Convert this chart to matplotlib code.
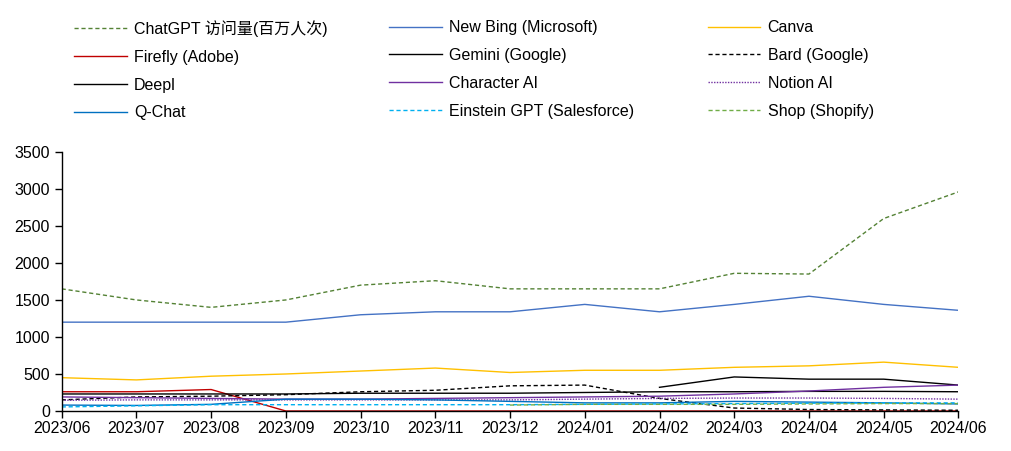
import matplotlib
matplotlib.use("Agg")
import matplotlib.pyplot as plt
import numpy as np

plt.rcParams['font.family'] = ['Liberation Sans', 'Noto Sans CJK SC', 'DejaVu Sans']

months = ['2023/06', '2023/07', '2023/08', '2023/09', '2023/10', '2023/11', '2023/12',
          '2024/01', '2024/02', '2024/03', '2024/04', '2024/05', '2024/06']

chatgpt = [1650, 1500, 1400, 1500, 1700, 1760, 1650, 1650, 1650, 1860, 1850, 2600, 2960]
new_bing = [1200, 1200, 1200, 1200, 1300, 1340, 1340, 1440, 1340, 1440, 1550, 1440, 1360]
canva = [450, 420, 470, 500, 540, 580, 520, 550, 550, 590, 610, 660, 590]
firefly = [260, 260, 290, 0, 0, 0, 0, 0, 0, 0, 0, 0, 0]
gemini = [None, None, None, None, None, None, None, None, 320, 460, 430, 430, 350]
bard = [150, 190, 200, 220, 260, 280, 340, 350, 170, 40, 20, 15, 10]
deepl = [230, 230, 230, 230, 240, 240, 240, 250, 260, 260, 265, 265, 260]
character_ai = [190, 180, 170, 160, 160, 170, 180, 190, 200, 230, 270, 320, 350]
notion_ai = [145, 150, 150, 150, 150, 150, 150, 160, 170, 175, 175, 170, 160]
q_chat = [80, 75, 90, 160, 160, 150, 130, 110, 110, 130, 120, 110, 95]
einstein = [55, 70, 85, 85, 85, 85, 85, 90, 95, 100, 105, 110, 110]
shop = [None, None, None, None, None, None, 80, 90, 90, 90, 95, 100, 100]

# (label, values, colour, dashes) -- legend is row-major, 3 columns
series = [
    ('ChatGPT 访问量(百万人次)', chatgpt, '#548235', (3, 2)),
    ('New Bing (Microsoft)', new_bing, '#4472C4', None),
    ('Canva', canva, '#FFC000', None),
    ('Firefly (Adobe)', firefly, '#C00000', None),
    ('Gemini (Google)', gemini, '#000000', None),
    ('Bard (Google)', bard, '#000000', (3, 2)),
    ('Deepl', deepl, '#000000', None),
    ('Character AI', character_ai, '#7030A0', None),
    ('Notion AI', notion_ai, '#7030A0', (1, 1)),
    ('Q-Chat', q_chat, '#0070C0', None),
    ('Einstein GPT (Salesforce)', einstein, '#00B0F0', (3, 2)),
    ('Shop (Shopify)', shop, '#70AD47', (3, 2)),
]

fig = plt.figure(figsize=(10.11, 4.51), dpi=100)
ax = fig.add_axes([0.061, 0.0887, 0.887, 0.5745])

x = np.arange(len(months))
handles = []
for label, vals, col, dash in series:
    y = np.array([np.nan if v is None else v for v in vals], dtype=float)
    line, = ax.plot(x, y, color=col, lw=1.0, label=label)
    if dash is not None:
        line.set_dashes(dash)
    handles.append(line)

ax.set_xlim(0, 12)
ax.set_ylim(0, 3500)
ax.set_xticks(x)
ax.set_xticklabels(months)
ax.set_yticks(np.arange(0, 3501, 500))
ax.tick_params(axis='both', labelsize=11.5, colors='black', length=5, width=1, direction='out')
ax.tick_params(axis='x', pad=2)
for s in ['top', 'right']:
    ax.spines[s].set_visible(False)
for s in ['left', 'bottom']:
    ax.spines[s].set_color('black')
    ax.spines[s].set_linewidth(1)

# three legend columns, placed separately like Excel's equal-width layout
col_x = [0.062, 0.374, 0.689]
for c in range(3):
    hs = handles[c::3]
    leg = fig.legend(handles=hs, labels=[h.get_label() for h in hs],
                     loc='upper left', bbox_to_anchor=(col_x[c], 0.98),
                     frameon=False, fontsize=11.5, handlelength=3.3,
                     handletextpad=0.45, labelspacing=0.8, borderaxespad=0.3)

fig.savefig('out.png', dpi=100)
